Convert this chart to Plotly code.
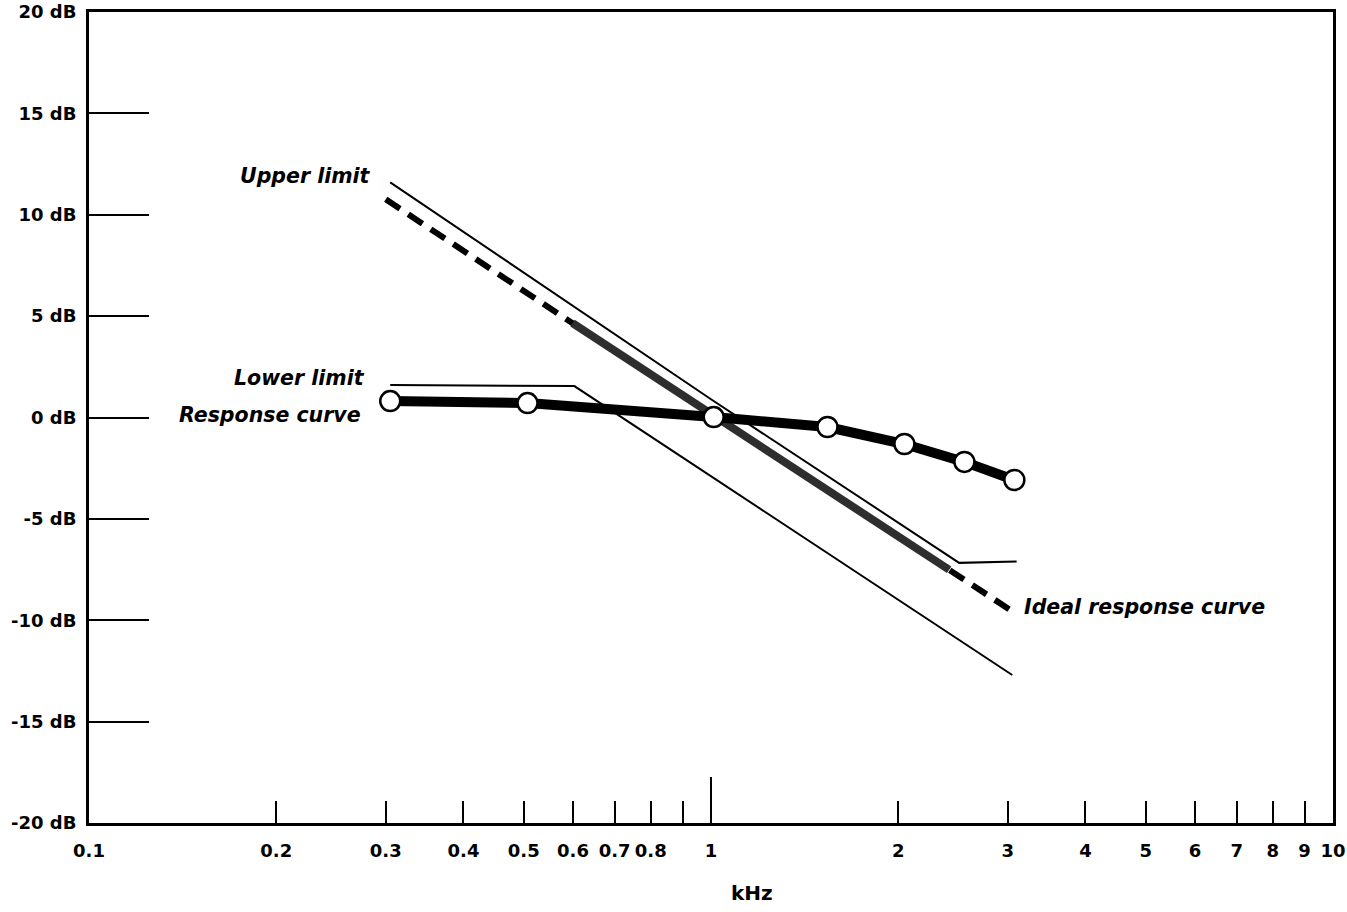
import math
import plotly.graph_objects as go

# ---- data ----
upper_f = [0.305, 1.0, 2.506, 3.10]
upper_db = [11.6, 0.9, -7.17, -7.1]

lower_f = [0.305, 0.603, 3.05]
lower_db = [1.6, 1.55, -12.7]

ideal_f = [0.30, 0.599, 2.415, 3.04]
ideal_db = [10.76, 4.65, -7.51, -9.53]

resp_f = [0.305, 0.507, 1.01, 1.539, 2.046, 2.555, 3.074]
resp_db = [0.81, 0.71, 0.02, -0.47, -1.31, -2.19, -3.08]

x_tickvals = [0.1, 0.2, 0.3, 0.4, 0.5, 0.6, 0.7, 0.8, 0.9, 1, 2, 3, 4, 5, 6, 7, 8, 9, 10]
x_ticktext = ["0.1", "0.2", "0.3", "0.4", "0.5", "0.6", "0.7", "0.8", "", "1",
              "2", "3", "4", "5", "6", "7", "8", "9", "10"]
y_tickvals = [20, 15, 10, 5, 0, -5, -10, -15, -20]
y_ticktext = ["20 dB", "15 dB", "10 dB", "5 dB", "0 dB", "-5 dB", "-10 dB", "-15 dB", "-20 dB"]

FONT = "DejaVu Sans"

fig = go.Figure()

# lower limit (on x2 so the overlay axis is drawn)
fig.add_trace(go.Scatter(x=lower_f, y=lower_db, mode="lines", xaxis="x2", yaxis="y",
                         line=dict(color="black", width=2), showlegend=False, hoverinfo="skip"))
# upper limit
fig.add_trace(go.Scatter(x=upper_f, y=upper_db, mode="lines",
                         line=dict(color="black", width=2), showlegend=False, hoverinfo="skip"))
# ideal response (dashed, full extent)
fig.add_trace(go.Scatter(x=ideal_f, y=ideal_db, mode="lines",
                         line=dict(color="black", width=6, dash="17px,10px"),
                         showlegend=False, hoverinfo="skip"))
# ideal response (solid thick, in-band part)
fig.add_trace(go.Scatter(x=ideal_f[1:3], y=ideal_db[1:3], mode="lines",
                         line=dict(color="#2e2e2e", width=8),
                         showlegend=False, hoverinfo="skip"))
# measured response curve
fig.add_trace(go.Scatter(x=resp_f, y=resp_db, mode="lines+markers",
                         line=dict(color="black", width=10),
                         marker=dict(size=20, color="white", line=dict(color="black", width=2.5)),
                         showlegend=False, hoverinfo="skip"))

label_font = dict(family=FONT, size=20.5, color="black", weight="bold", style="italic")
labels = [
    ("Upper limit", 0.286, 11.9, "right"),
    ("Lower limit", 0.2796, 1.95, "right"),
    ("Response curve", 0.2756, 0.12, "right"),
    ("Ideal response curve", 3.165, -9.34, "left"),
]
for txt, fx, dy, anchor in labels:
    fig.add_annotation(x=math.log10(fx), y=dy, xref="x", yref="y", text=txt, showarrow=False,
                       xanchor=anchor, yanchor="middle", font=label_font)
fig.add_annotation(x=0.533, y=-0.086, xref="paper", yref="paper", text="kHz", showarrow=False,
                   xanchor="center", yanchor="middle",
                   font=dict(family=FONT, size=20, color="black", weight="bold"))

tick_font = dict(family=FONT, size=18, color="black", weight="bold")

fig.update_layout(
    width=1347, height=912,
    margin=dict(l=89, r=14, t=12, b=89),
    paper_bgcolor="white", plot_bgcolor="white",
    xaxis=dict(type="log", range=[-1, 1], tickvals=x_tickvals, ticktext=x_ticktext,
               ticks="inside", ticklen=22, tickwidth=2, tickcolor="black", tickangle=0,
               showgrid=False, zeroline=False, showline=True, linecolor="black", linewidth=3,
               mirror=True, tickfont=tick_font, ticklabelstandoff=9, automargin=False),
    xaxis2=dict(type="log", range=[-1, 1], overlaying="x", side="bottom", tickvals=[1],
                ticks="inside", ticklen=46, tickwidth=2, tickcolor="black",
                showticklabels=False, showgrid=False, zeroline=False, showline=False,
                automargin=False),
    yaxis=dict(range=[-20, 20], tickvals=y_tickvals, ticktext=y_ticktext,
               ticks="inside", ticklen=60, tickwidth=2, tickcolor="black",
               showgrid=False, zeroline=False, showline=True, linecolor="black", linewidth=3,
               mirror=True, tickfont=tick_font, ticklabelstandoff=6, automargin=False),
)

fig.write_html("out.html")
